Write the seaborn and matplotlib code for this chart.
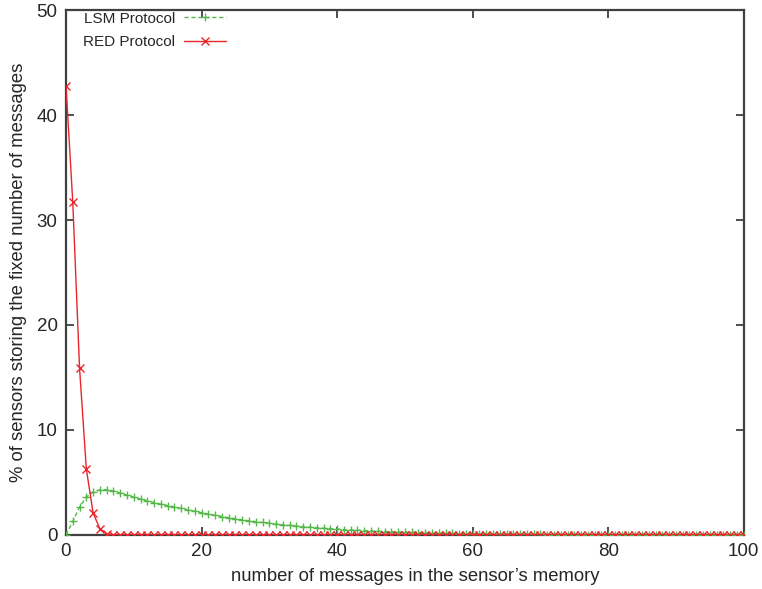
import numpy as np
import pandas as pd
import matplotlib
matplotlib.use("Agg")
import matplotlib.pyplot as plt
import seaborn as sns

# Number of messages held in memory (x) and share of sensors (%) per protocol
messages = list(range(0, 101))

lsm_pct = [
    0.0, 1.3, 2.65, 3.6, 4.1, 4.3, 4.33, 4.2, 4.0, 3.8,
    3.6, 3.42, 3.25, 3.09, 2.94, 2.8, 2.66, 2.53, 2.39, 2.25,
    2.12, 1.99, 1.87, 1.76, 1.65, 1.55, 1.45, 1.36, 1.27, 1.19,
    1.11, 1.04, 0.97, 0.91, 0.85, 0.79, 0.74, 0.69, 0.64, 0.6,
    0.56, 0.52, 0.48, 0.45, 0.42, 0.39, 0.36, 0.33, 0.31, 0.29,
    0.27, 0.25, 0.23, 0.21, 0.19, 0.18, 0.16, 0.15, 0.14, 0.13,
    0.12, 0.11, 0.1, 0.09, 0.08, 0.08, 0.07, 0.06, 0.06, 0.05,
    0.05, 0.04, 0.04, 0.04, 0.03, 0.03, 0.03, 0.02, 0.02, 0.02,
    0.02, 0.02, 0.01, 0.01, 0.01, 0.01, 0.01, 0.01, 0.01, 0.01,
    0.0, 0.0, 0.0, 0.0, 0.0, 0.0, 0.0, 0.0, 0.0, 0.0, 0.0,
]

red_pct = [42.8, 31.7, 15.9, 6.3, 2.1, 0.6, 0.12, 0.02] + [0.0] * 93

x_ticks = [0, 20, 40, 60, 80, 100]
y_ticks = [0, 10, 20, 30, 40, 50]

sns.set_style("ticks")
plt.rcParams["font.family"] = ["Liberation Sans", "DejaVu Sans"]

fig = plt.figure(figsize=(7.62, 5.89), dpi=100)
ax = fig.add_axes([0.0866, 0.0917, 0.8894, 0.8913])

df_lsm = pd.DataFrame({"messages": messages, "pct": lsm_pct})
df_red = pd.DataFrame({"messages": messages, "pct": red_pct})

green = "#56b84a"
red = "#e8262b"

sns.lineplot(data=df_lsm, x="messages", y="pct", ax=ax, color=green,
             linestyle=(0, (3, 2)), linewidth=1.0, marker="+", markersize=5.5,
             markeredgewidth=1.0, markeredgecolor=green,
             label="LSM Protocol", zorder=3)
sns.lineplot(data=df_red, x="messages", y="pct", ax=ax, color=red,
             linestyle="-", linewidth=1.0, marker="x", markersize=5.5,
             markeredgewidth=1.0, markeredgecolor=red,
             label="RED Protocol", zorder=4)

ax.set_xlim(0, 100)
ax.set_ylim(0, 50)
ax.set_xticks(x_ticks)
ax.set_yticks(y_ticks)
ax.tick_params(direction="in", length=6, width=1.3, color="#404040",
               labelsize=13.5, top=True, right=True, pad=6)
for s in ax.spines.values():
    s.set_visible(True)
    s.set_color("#404040")
    s.set_linewidth(1.6)

ax.set_xlabel("number of messages in the sensor\u2019s memory", fontsize=13.3)
ax.set_ylabel("% of sensors storing the fixed number of messages", fontsize=13.3, labelpad=7)
ax.xaxis.set_label_coords(0.516, -0.062)

leg = ax.legend(loc="upper left", bbox_to_anchor=(0.012, 1.014), frameon=False,
                markerfirst=False, fontsize=11, handlelength=2.7,
                handletextpad=0.6, labelspacing=0.6, borderaxespad=0.2)

fig.savefig("out.png", dpi=100)
